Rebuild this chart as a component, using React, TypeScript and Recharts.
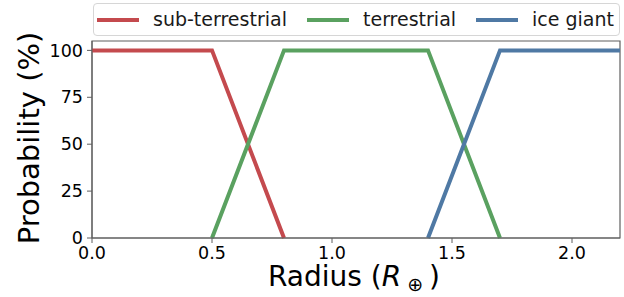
import { LineChart, Line, XAxis, YAxis, ReferenceArea } from "recharts";

const subX = [0, 0.5, 0.8];
const subY = [100, 100, 0];
const terX = [0.5, 0.8, 1.4, 1.7];
const terY = [0, 100, 100, 0];
const iceX = [1.4, 1.7, 2.2];
const iceY = [0, 100, 100];
const xTicks = [0, 0.5, 1.0, 1.5, 2.0];
const yTicks = [0, 25, 50, 75, 100];

const SERIES = [
  { key: "sub", name: "sub-terrestrial", color: "#C44A4E", xs: subX, ys: subY },
  { key: "ter", name: "terrestrial", color: "#5AA160", xs: terX, ys: terY },
  { key: "ice", name: "ice giant", color: "#4F79A4", xs: iceX, ys: iceY },
];

const FONT = "DejaVu Sans, sans-serif";
const SPINE = "#5f5f5f";

// legend is drawn as html over the chart, like matplotlib's framed legend
function LegendBox() {
  const sampleLeft = [3, 213, 382];
  const textLeft = [59, 269, 438];
  return (
    <div
      style={{
        position: "absolute",
        left: 93,
        top: 3,
        width: 527,
        height: 33,
        boxSizing: "border-box",
        border: "1px solid #d6d6d6",
        borderRadius: 4,
        background: "rgba(255,255,255,0.8)",
        fontFamily: FONT,
        fontSize: 19,
        color: "#1a1a1a",
      }}
    >
      {SERIES.map((s, i) => (
        <div key={s.key}>
          <span
            style={{ position: "absolute", left: sampleLeft[i], top: 14, width: 42, height: 4, background: s.color }}
          />
          <span style={{ position: "absolute", left: textLeft[i], top: 4, lineHeight: "23px", whiteSpace: "nowrap" }}>
            {s.name}
          </span>
        </div>
      ))}
    </div>
  );
}

export default function App() {
  return (
    <div style={{ position: "absolute", left: 0, top: 0, width: 624, height: 297, background: "#fff" }}>
      <LineChart width={624} height={297} margin={{ top: 41, right: 4, left: 0, bottom: 0 }}>
        <XAxis
          type="number"
          dataKey="x"
          domain={[0, 2.2]}
          ticks={xTicks}
          allowDuplicatedCategory={false}
          tickFormatter={(v: number) => v.toFixed(1)}
          height={59}
          stroke={SPINE}
          tickSize={5}
          tickMargin={4}
          tick={{ fill: "#000", fontSize: 17.5, fontFamily: FONT }}
          label={{
            content: () => (
              <text x={268} y={286} textAnchor="start" fontFamily={FONT} fontSize={28} fill="#000">
                Radius (<tspan fontStyle="italic">R</tspan>
                <tspan fontSize={19} dx={6} dy={5}>⊕</tspan>
                <tspan dx={6} dy={-5}>)</tspan>
              </text>
            ),
          }}
        />
        <YAxis
          type="number"
          domain={[0, 105]}
          ticks={yTicks}
          width={92}
          stroke={SPINE}
          tickSize={5}
          tickMargin={4}
          tick={{ fill: "#000", fontSize: 17.5, fontFamily: FONT }}
          label={{
            content: () => (
              <text
                x={29}
                y={138}
                transform="rotate(-90 29 138)"
                textAnchor="middle"
                dominantBaseline="central"
                fontFamily={FONT}
                fontSize={29}
                fill="#000"
              >
                Probability (%)
              </text>
            ),
          }}
        />
        <ReferenceArea x1={0} x2={2.2} y1={0} y2={105} fill="none" stroke={SPINE} strokeWidth={1.2} ifOverflow="visible" />
        {SERIES.map((s) => (
          <Line
            key={s.key}
            data={s.xs.map((x, i) => ({ x, y: s.ys[i] }))}
            dataKey="y"
            name={s.name}
            type="linear"
            stroke={s.color}
            strokeWidth={4}
            dot={false}
            activeDot={false}
            isAnimationActive={false}
          />
        ))}
      </LineChart>
      <LegendBox />
    </div>
  );
}
